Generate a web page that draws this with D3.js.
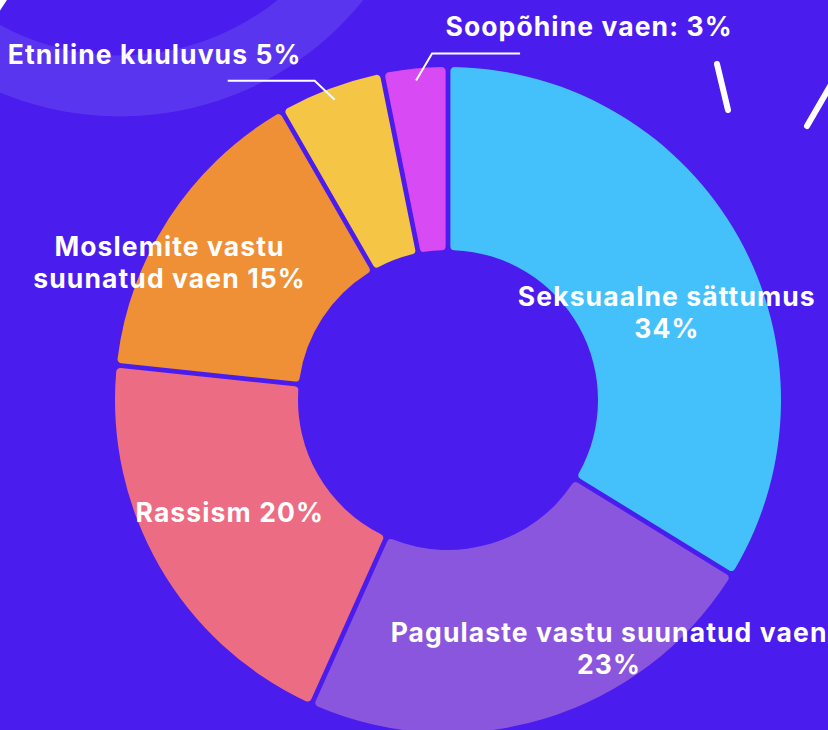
<!DOCTYPE html>
<html>
<head>
<meta charset="utf-8">
<script src="https://cdn.jsdelivr.net/npm/d3@7"></script>
<style>
  html, body { margin: 0; padding: 0; background: #4a1ced; }
  svg { display: block; }
  text { font-family: Inter, "Open Sans", sans-serif; font-weight: 700; fill: #fff; }
</style>
</head>
<body>
<svg></svg>
<script>
// andmed
const categories = ["Seksuaalne sättumus", "Pagulaste vastu suunatud vaen", "Rassism", "Moslemite vastu suunatud vaen", "Etniline kuuluvus", "Soopõhine vaen"];
const shares = [34, 23, 20, 15, 5, 3];
const labelLines = [
  ["Seksuaalne sättumus", "34%"],
  ["Pagulaste vastu suunatud vaen", "23%"],
  ["Rassism 20%"],
  ["Moslemite vastu", "suunatud vaen 15%"],
  ["Etniline kuuluvus 5%"],
  ["Soopõhine vaen: 3%"]
];
const colors = ["#44c1fa", "#8b56de", "#ec6d83", "#ef8f36", "#f5c545", "#d84af3"];

const width = 828, height = 730;
const cx = 448, cy = 400;
const innerR = 150, outerR = 333;

// sildi nihked keskpunktist (esimese rea alusjoon) ja juhtjooned
const labelOffset = [
  {dx: 8, dy: 24}, {dx: 90, dy: 11}, {dx: -9, dy: 1}, {dx: -76, dy: -12},
  {elbow: [-20, -19], end: -87, label: [-160, -17]},
  {elbow: [16, -27], end: 88, label: [157, -18]}
];

const svg = d3.select("svg").attr("width", width).attr("height", height);

// taust
svg.append("rect").attr("width", width).attr("height", height).attr("fill", "#4a1ced");
svg.append("circle")
  .attr("cx", 120).attr("cy", -196).attr("r", 282)
  .attr("fill", "none").attr("stroke", "#5a35ef").attr("stroke-width", 61);

svg.append("g").attr("stroke", "#fff").attr("stroke-width", 6).attr("stroke-linecap", "round")
  .selectAll("line")
  .data([[717, 64, 728, 110], [807, 126, 836, 76], [-6, 14, 6, -4]])
  .join("line")
  .attr("x1", d => d[0]).attr("y1", d => d[1])
  .attr("x2", d => d[2]).attr("y2", d => d[3]);

const data = categories.map((c, i) => ({category: c, value: shares[i], lines: labelLines[i], color: colors[i], off: labelOffset[i]}));

const pie = d3.pie().value(d => d.value).sort(null).padAngle(0.013);
const arc = d3.arc().innerRadius(innerR).outerRadius(outerR).cornerRadius(4);
const arcs = pie(data);

const g = svg.append("g").attr("transform", `translate(${cx},${cy})`);

g.selectAll("path")
  .data(arcs)
  .join("path")
  .attr("d", arc)
  .attr("fill", d => d.data.color);

const lineH = 32;
const fontSize = 26.5;

// sildid
arcs.forEach(d => {
  const o = d.data.off;
  let x, y;
  if (o.label) {
    const mid = (d.startAngle + d.endAngle) / 2;
    const r = outerR - 12;
    const sx = Math.sin(mid) * r, sy = -Math.cos(mid) * r;
    const ex = sx + o.elbow[0], ey = sy + o.elbow[1];
    g.append("path")
      .attr("d", d3.line()([[sx, sy], [ex, ey], [ex + o.end, ey]]))
      .attr("fill", "none").attr("stroke", "#fff").attr("stroke-width", 2);
    x = ex + o.label[0];
    y = ey + o.label[1];
  } else {
    const c = arc.centroid(d);
    x = c[0] + o.dx;
    y = c[1] + o.dy;
  }
  const t = g.append("text")
    .attr("text-anchor", "middle")
    .attr("font-size", fontSize)
    .attr("letter-spacing", 1.1)
    .attr("x", x).attr("y", y);
  t.selectAll("tspan")
    .data(d.data.lines)
    .join("tspan")
    .attr("x", x)
    .attr("dy", (l, i) => i === 0 ? 0 : lineH)
    .text(l => l);
});
</script>
</body>
</html>
